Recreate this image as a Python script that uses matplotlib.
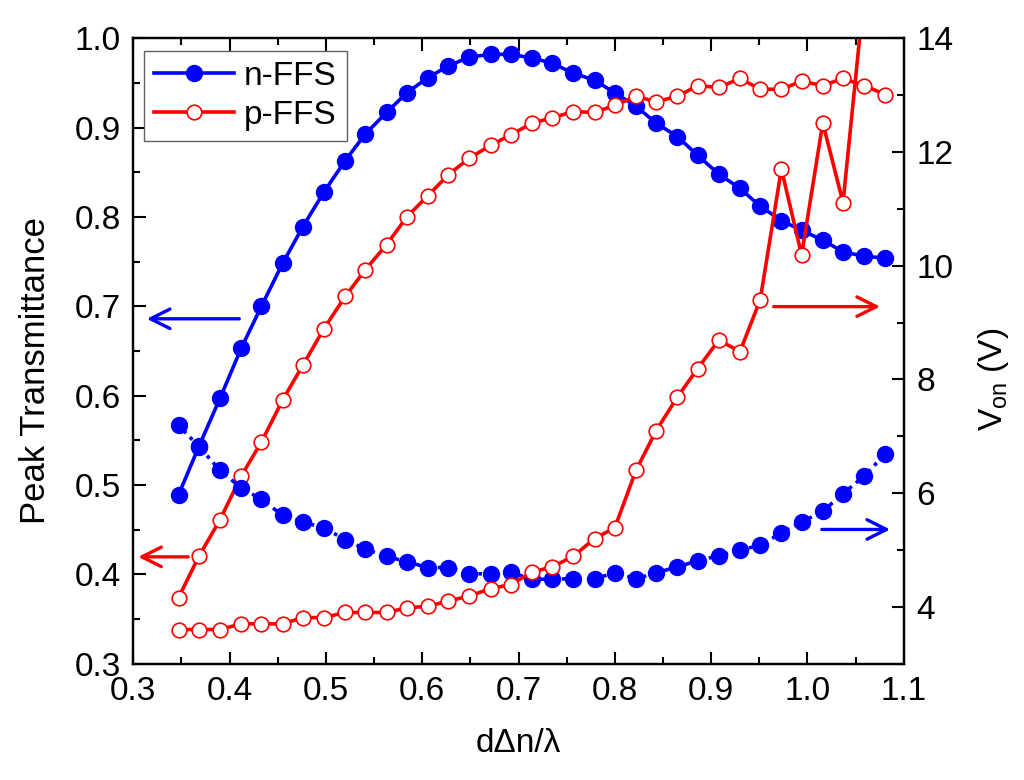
import matplotlib
matplotlib.use('Agg')
import matplotlib.pyplot as plt
from matplotlib.ticker import MultipleLocator

plt.rcParams['font.family'] = ['Liberation Sans', 'DejaVu Sans']
plt.rcParams['mathtext.fontset'] = 'custom'
plt.rcParams['mathtext.rm'] = 'Liberation Sans'

# d*dn/lambda
x = [0.347, 0.368, 0.390, 0.412, 0.433, 0.455, 0.476, 0.498, 0.520, 0.541,
     0.563, 0.584, 0.606, 0.627, 0.649, 0.671, 0.692, 0.714, 0.735, 0.757,
     0.779, 0.800, 0.822, 0.843, 0.865, 0.886, 0.908, 0.930, 0.951, 0.973,
     0.994, 1.016, 1.037, 1.059, 1.081]

# peak transmittance (left axis)
n_T = [0.489, 0.543, 0.597, 0.653, 0.700, 0.748, 0.789, 0.828, 0.863, 0.893,
       0.917, 0.939, 0.956, 0.969, 0.979, 0.982, 0.982, 0.978, 0.972, 0.961,
       0.953, 0.939, 0.924, 0.905, 0.890, 0.869, 0.848, 0.832, 0.812, 0.796,
       0.785, 0.774, 0.761, 0.756, 0.754]
p_T = [0.374, 0.420, 0.461, 0.510, 0.548, 0.595, 0.634, 0.675, 0.711, 0.741,
       0.769, 0.800, 0.824, 0.847, 0.866, 0.880, 0.892, 0.905, 0.911, 0.918,
       0.917, 0.925, 0.935, 0.929, 0.935, 0.947, 0.945, 0.955, 0.943, 0.943,
       0.952, 0.947, 0.955, 0.947, 0.937]

# on-state voltage (right axis)
n_V = [7.19, 6.82, 6.40, 6.09, 5.89, 5.61, 5.49, 5.39, 5.18, 5.01,
       4.89, 4.79, 4.69, 4.69, 4.58, 4.58, 4.61, 4.48, 4.49, 4.49,
       4.49, 4.60, 4.49, 4.60, 4.70, 4.81, 4.90, 5.00, 5.08, 5.30,
       5.49, 5.68, 5.99, 6.30, 6.69]
p_V = [3.60, 3.60, 3.60, 3.70, 3.70, 3.70, 3.81, 3.81, 3.90, 3.90,
       3.90, 3.98, 4.01, 4.10, 4.19, 4.32, 4.39, 4.61, 4.70, 4.89,
       5.20, 5.39, 6.40, 7.10, 7.69, 8.19, 8.69, 8.49, 9.40, 11.70,
       10.19, 12.51, 11.11, 14.8]

blue = '#0000ff'
red = '#ff0000'

fig = plt.figure(figsize=(10.24, 7.8), dpi=100)
ax = fig.add_axes([0.1302, 0.1492, 0.7523, 0.8017])
ax2 = ax.twinx()

l1, = ax.plot(x, n_T, '-', color=blue, lw=2.6, marker='o', ms=11.5,
              mfc=blue, mec=blue, label='n-FFS')
l2, = ax.plot(x, p_T, '-', color=red, lw=2.6, marker='o', ms=10.5,
              mfc='white', mec=red, mew=1.2, label='p-FFS')
ax2.plot(x, n_V, color=blue, lw=2.6, ls=(0, (3, 1.5, 1, 1.5)), marker='o',
         ms=11.5, mfc=blue, mec=blue)
ax2.plot(x[:len(p_V)], p_V, '-', color=red, lw=2.6, marker='o', ms=10.5,
         mfc='white', mec=red, mew=1.2)

ax.set_xlim(0.3, 1.1)
ax.set_ylim(0.3, 1.0)
ax2.set_ylim(3, 14)

ax.xaxis.set_major_locator(MultipleLocator(0.1))
ax.xaxis.set_minor_locator(MultipleLocator(0.05))
ax.yaxis.set_major_locator(MultipleLocator(0.1))
ax.yaxis.set_minor_locator(MultipleLocator(0.05))
ax2.yaxis.set_major_locator(MultipleLocator(2))
ax2.yaxis.set_minor_locator(MultipleLocator(1))
ax.xaxis.set_major_formatter(plt.FormatStrFormatter('%.1f'))
ax.yaxis.set_major_formatter(plt.FormatStrFormatter('%.1f'))

ax.tick_params(axis='x', which='both', direction='in', top=True, labelsize=24, pad=9)
ax.tick_params(axis='y', which='both', direction='in', right=False, labelsize=24, pad=9)
ax2.tick_params(axis='y', which='both', direction='in', labelsize=24, pad=9)
for a in (ax, ax2):
    a.tick_params(which='major', length=9, width=1.5)
    a.tick_params(which='minor', length=5, width=1.5)
    for s in a.spines.values():
        s.set_linewidth(1.6)

ax.set_xlabel('d\u0394n/\u03bb', fontsize=24, labelpad=15)
ax.set_ylabel('Peak Transmittance', fontsize=25, labelpad=16)
ax2.set_ylabel(r'V$_{\mathregular{on}}$ (V)', fontsize=24, labelpad=16)
ax.yaxis.label.set_y(0.468)
ax2.yaxis.label.set_y(0.455)

# arrows pointing to the matching axis
astyle = '->,head_length=0.7,head_width=0.35'
ax.annotate('', xy=(0.314, 0.686), xytext=(0.410, 0.686),
            arrowprops=dict(arrowstyle=astyle, color=blue, lw=2.4,
                            shrinkA=0, shrinkB=0, mutation_scale=20))
ax.annotate('', xy=(0.305, 0.4195), xytext=(0.357, 0.4195),
            arrowprops=dict(arrowstyle=astyle, color=red, lw=2.4,
                            shrinkA=0, shrinkB=0, mutation_scale=20))
ax2.annotate('', xy=(1.0755, 9.28), xytext=(0.965, 9.28),
             arrowprops=dict(arrowstyle=astyle, color=red, lw=2.4,
                             shrinkA=0, shrinkB=0, mutation_scale=20))
ax2.annotate('', xy=(1.086, 5.36), xytext=(1.015, 5.36),
             arrowprops=dict(arrowstyle=astyle, color=blue, lw=2.4,
                             shrinkA=0, shrinkB=0, mutation_scale=20))

leg = ax2.legend(handles=[l1, l2], loc='upper left', bbox_to_anchor=(0.014, 0.98),
                 borderaxespad=0, fontsize=24, handlelength=2.4, handletextpad=0.3,
                 labelspacing=0.25, borderpad=0.3, fancybox=False, framealpha=1,
                 edgecolor='#606060')
leg.get_frame().set_linewidth(1.0)

fig.savefig('out.png', dpi=100)
